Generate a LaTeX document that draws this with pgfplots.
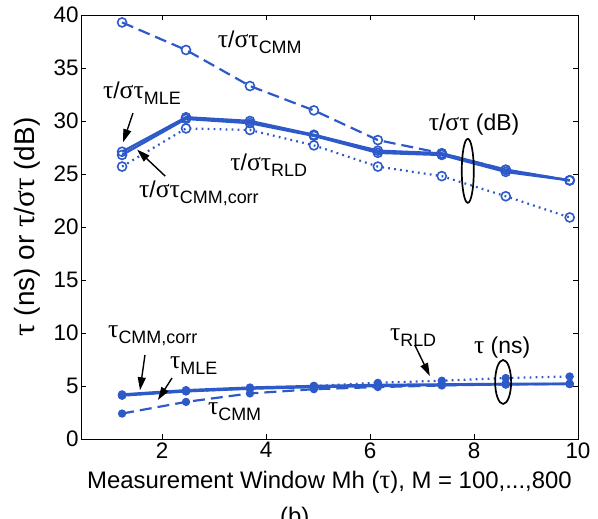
\documentclass[border=0pt]{standalone}
\usepackage{pgfplots}
\pgfplotsset{compat=1.18}
\usepackage{fontspec}
\setmainfont{Liberation Sans}
\newfontfamily\gr{Liberation Serif}[Scale=1.12]
\usetikzlibrary{arrows.meta}
\definecolor{mblue}{RGB}{45,90,200}
\newcommand{\tu}{{\gr τ}}
\newcommand{\sg}{{\gr σ}}
\newcommand{\sub}[1]{\raisebox{-6bp}{\fontsize{18}{18}\selectfont #1}}
\newcommand{\ann}{\fontsize{23}{25}\selectfont}
\begin{document}
\begin{tikzpicture}
\useasboundingbox (-81bp,-80bp) rectangle (517bp,439bp);
\begin{axis}[
  at={(0,0)}, anchor=south west,
  scale only axis, width=497bp, height=424bp,
  xmin=0.44, xmax=10, ymin=0, ymax=40,
  xtick={2,4,6,8,10}, ytick={0,5,...,40},
  tick align=inside, major tick length=5bp,
  axis line style={black, line width=0.8bp},
  tick style={black, line width=0.8bp},
  ticklabel style={font=\fontsize{22.5}{24}\selectfont},
  yticklabel style={xshift=1bp},
  /pgf/number format/assume math mode=true,
  xlabel={Measurement Window Mh (\tu), M = 100,...,800},
  ylabel={\tu{} (ns) or \tu/\sg\tu{} (dB)},
  xlabel style={font=\fontsize{24}{26}\selectfont, at={(axis description cs:0.5,-0.101)}, anchor=center},
  ylabel style={font=\fontsize{28}{30}\selectfont, at={(axis description cs:-0.109,0.5)}, anchor=center},
  clip=false,
]
% upper: tau/sigma tau (dB)
\addplot[mblue, line width=2.2bp, dash pattern=on 12bp off 6bp, mark=o, mark size=4.5bp, mark options={solid, line width=1.6bp}]
 coordinates {(1.23,39.3) (2.46,36.7) (3.69,33.3) (4.92,31.0) (6.15,28.2) (7.38,26.95) (8.61,25.4) (9.84,24.4)};
\addplot[mblue, line width=2.4bp, mark=o, mark size=4.5bp, mark options={solid, line width=1.6bp}]
 coordinates {(1.23,27.1) (2.46,30.35) (3.69,30.0) (4.92,28.7) (6.15,27.2) (7.38,26.95) (8.61,25.4) (9.84,24.4)};
\addplot[mblue, line width=2.4bp, mark=o, mark size=4.5bp, mark options={solid, line width=1.6bp}]
 coordinates {(1.23,26.8) (2.46,30.2) (3.69,29.8) (4.92,28.6) (6.15,27.0) (7.38,26.8) (8.61,25.2) (9.84,24.4)};
\addplot[mblue, line width=2.2bp, dash pattern=on 1.8bp off 4.2bp, mark=o, mark size=4.5bp, mark options={solid, line width=1.6bp}]
 coordinates {(1.23,25.7) (2.46,29.3) (3.69,29.15) (4.92,27.7) (6.15,25.7) (7.38,24.8) (8.61,22.9) (9.84,20.9)};
% lower: tau (ns)
\addplot[mblue, line width=2.2bp, dash pattern=on 12bp off 6bp, mark=*, mark size=3bp, mark options={solid}]
 coordinates {(1.23,2.4) (2.46,3.5) (3.69,4.3) (4.92,4.7) (6.15,4.9) (7.38,5.05) (8.61,5.15) (9.84,5.2)};
\addplot[mblue, line width=2.4bp, mark=*, mark size=3bp, mark options={solid}]
 coordinates {(1.23,4.2) (2.46,4.6) (3.69,4.85) (4.92,5.0) (6.15,5.1) (7.38,5.15) (8.61,5.2) (9.84,5.2)};
\addplot[mblue, line width=2.4bp, mark=*, mark size=3bp, mark options={solid}]
 coordinates {(1.23,4.1) (2.46,4.5) (3.69,4.75) (4.92,4.9) (6.15,5.0) (7.38,5.1) (8.61,5.15) (9.84,5.2)};
\addplot[mblue, line width=2.2bp, dash pattern=on 1.8bp off 4.2bp, mark=*, mark size=3bp, mark options={solid}]
 coordinates {(1.23,4.1) (2.46,4.5) (3.69,4.75) (4.92,5.0) (6.15,5.3) (7.38,5.5) (8.61,5.75) (9.84,5.9)};
% annotations
\node[anchor=west, inner sep=0pt, font=\ann] at (axis cs:3.07,37.45) {\tu/\sg\tu\sub{CMM}};
\node[anchor=west, inner sep=0pt, font=\ann] at (axis cs:0.86,32.64) {\tu/\sg\tu\sub{MLE}};
\draw[-{Triangle[length=13bp,width=8bp]}, line width=1.4bp] (axis cs:1.44,30.75) -- (axis cs:1.25,28.0);
\node[anchor=west, inner sep=0pt, font=\ann] at (axis cs:1.555,23.2) {\tu/\sg\tu\sub{CMM,corr}};
\draw[-{Triangle[length=13bp,width=8bp]}, line width=1.4bp] (axis cs:2.06,24.8) -- (axis cs:1.52,27.3);
\node[anchor=west, inner sep=0pt, font=\ann] at (axis cs:3.31,25.85) {\tu/\sg\tu\sub{RLD}};
\node[inner sep=0pt, font=\ann] at (axis cs:8.0,29.7) {\tu/\sg\tu{} (dB)};
\draw[black, line width=1.7bp] (axis cs:7.88,25.3) ellipse [x radius=6bp, y radius=32bp];
\node[anchor=west, inner sep=0pt, font=\ann] at (axis cs:0.96,9.72) {\tu\sub{CMM,corr}};
\draw[-{Triangle[length=13bp,width=8bp]}, line width=1.4bp] (axis cs:1.67,7.92) -- (axis cs:1.575,4.6);
\node[anchor=west, inner sep=0pt, font=\ann] at (axis cs:2.15,6.9) {\tu\sub{MLE}};
\draw[-{Triangle[length=13bp,width=8bp]}, line width=1.4bp] (axis cs:2.19,5.75) -- (axis cs:1.92,3.68);
\node[anchor=west, inner sep=0pt, font=\ann] at (axis cs:2.88,2.55) {\tu\sub{CMM}};
\node[anchor=west, inner sep=0pt, font=\ann] at (axis cs:6.38,9.6) {\tu\sub{RLD}};
\draw[-{Triangle[length=13bp,width=8bp]}, line width=1.4bp] (axis cs:6.86,8.87) -- (axis cs:7.15,5.94);
\node[inner sep=0pt, font=\ann] at (axis cs:8.54,8.58) {\tu{} (ns)};
\draw[black, line width=1.7bp] (axis cs:8.56,5.38) ellipse [x radius=8bp, y radius=22bp];
\node[anchor=north, font=\fontsize{24}{26}\selectfont] at (axis description cs:0.43,-0.152) {(b)};
\end{axis}
\end{tikzpicture}
\end{document}
